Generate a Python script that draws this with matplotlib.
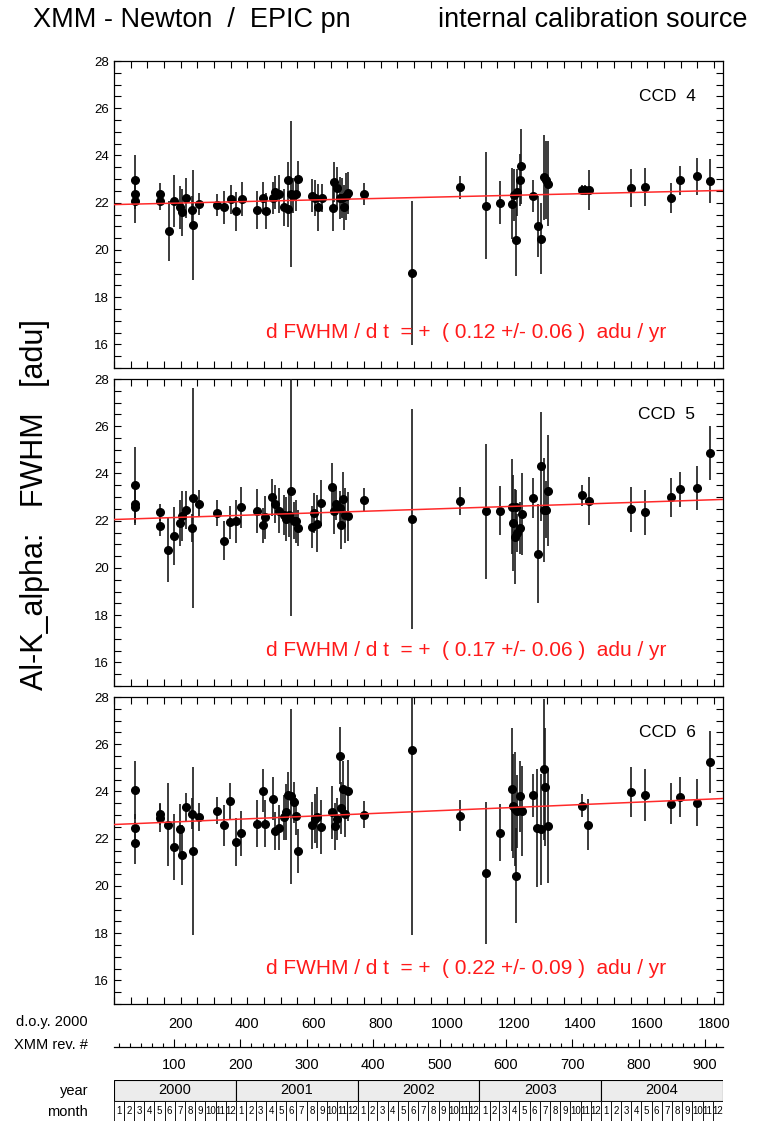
import calendar

import matplotlib
matplotlib.use("Agg")
import matplotlib.pyplot as plt
from matplotlib import font_manager
from matplotlib.ticker import MultipleLocator, FixedLocator
import numpy as np

plt.rcParams['font.family'] = ['Liberation Sans', 'DejaVu Sans']

# ---- data (day of year 2000, FWHM [adu], error) ----
ccd4_day = [62, 62, 62, 138, 138, 164, 181, 198, 205, 216, 235, 238, 255, 310, 331, 350, 366, 383,
            428, 447, 455, 476, 483, 495, 510, 521, 521, 530, 538, 546, 553, 593, 603, 613, 623,
            656, 661, 670, 678, 683, 691, 695, 703, 751, 895, 1039, 1117, 1157, 1193, 1200, 1205,
            1210, 1218, 1222, 1256, 1272, 1282, 1289, 1295, 1302, 1403, 1414, 1424, 1551, 1592,
            1670, 1698, 1748, 1787]
ccd4_fwhm = [22.97, 22.35, 22.06, 22.37, 22.06, 20.79, 22.06, 21.8, 21.6, 22.2, 21.7, 21.04, 21.95,
             21.9, 21.8, 22.15, 21.63, 22.15, 21.68, 22.2, 21.63, 22.2, 22.44, 22.37, 21.8, 22.97,
             21.73, 22.37, 22.3, 22.37, 23.0, 22.3, 22.2, 21.8, 22.2, 21.77, 22.87, 22.62, 22.2,
             22.2, 21.8, 22.27, 22.4, 22.37, 19.03, 22.65, 21.87, 22.0, 21.96, 22.34, 20.41, 22.44,
             22.97, 23.54, 22.27, 21.0, 20.48, 23.07, 22.97, 22.8, 22.55, 22.55, 22.55, 22.62,
             22.66, 22.2, 22.94, 23.11, 22.9]
ccd4_err = [1.06, 0.6, 0.9, 0.45, 0.35, 1.27, 1.1, 0.9, 1.0, 0.85, 0.6, 2.33, 0.48, 0.48, 0.69,
            0.62, 0.83, 0.73, 0.81, 0.66, 0.76, 0.67, 0.7, 0.8, 0.78, 0.75, 0.75, 3.1, 0.74, 0.74,
            0.77, 0.7, 0.77, 1.0, 0.6, 0.95, 0.85, 0.9, 0.9, 0.85, 0.95, 1.0, 0.88, 0.46, 3.05,
            0.5, 2.27, 0.92, 1.5, 1.1, 1.5, 1.0, 1.1, 1.6, 0.67, 1.3, 1.5, 1.8, 1.65, 1.8, 0.2,
            0.2, 0.85, 0.8, 0.8, 0.65, 0.63, 0.77, 0.93]

ccd5_day = [62, 62, 62, 137, 137, 163, 180, 197, 204, 215, 234, 237, 254, 309, 330, 349, 365, 382,
            429, 446, 454, 475, 482, 494, 509, 517, 524, 530, 539, 547, 553, 594, 600, 610, 622,
            655, 660, 667, 677, 680, 687, 692, 702, 750, 894, 1039, 1117, 1157, 1193, 1198, 1203,
            1206, 1210, 1218, 1224, 1256, 1272, 1282, 1289, 1295, 1302, 1405, 1424, 1551, 1592,
            1670, 1698, 1748, 1787]
ccd5_fwhm = [23.51, 22.72, 22.6, 22.35, 21.78, 20.77, 21.36, 21.9, 22.18, 22.46, 21.69, 22.96,
             22.72, 22.32, 21.16, 21.93, 21.97, 22.56, 22.43, 21.81, 22.14, 22.99, 22.72, 22.42,
             22.25, 22.07, 22.25, 23.27, 22.0, 21.97, 21.69, 21.73, 22.32, 21.87, 22.75, 23.41,
             22.43, 22.72, 22.53, 21.83, 22.93, 22.22, 22.18, 22.89, 22.08, 22.82, 22.39, 22.43,
             22.6, 21.9, 21.33, 22.6, 21.47, 21.71, 22.28, 22.96, 20.6, 24.3, 22.46, 22.46, 23.27,
             23.08, 22.84, 22.48, 22.35, 22.99, 23.34, 23.38, 24.86]
ccd5_err = [1.62, 0.6, 0.8, 0.35, 0.42, 1.36, 1.23, 0.99, 1.06, 0.8, 0.6, 4.64, 0.57, 0.56, 0.81,
            0.71, 0.92, 0.86, 0.93, 0.74, 0.9, 0.78, 0.81, 0.95, 0.85, 0.92, 0.95, 5.3, 0.78, 0.92,
            0.75, 0.88, 0.85, 1.2, 0.99, 1.03, 0.99, 0.67, 0.74, 1.03, 1.13, 1.17, 1.03, 0.49,
            4.66, 0.59, 2.84, 1.04, 2.0, 2.05, 2.02, 0.7, 0.8, 1.1, 1.75, 0.83, 2.1, 2.3, 2.2,
            1.2, 2.36, 0.44, 1.01, 0.95, 0.97, 0.82, 0.74, 0.94, 1.14]

ccd6_day = [62, 62, 62, 137, 137, 163, 180, 199, 204, 215, 234, 237, 254, 309, 330, 349, 365, 382,
            429, 446, 454, 476, 482, 494, 509, 517, 522, 530, 539, 545, 553, 594, 602, 610, 622,
            655, 662, 669, 677, 682, 687, 692, 702, 750, 894, 1039, 1117, 1157, 1193, 1198, 1203,
            1205, 1210, 1218, 1224, 1256, 1270, 1282, 1289, 1293, 1302, 1405, 1423, 1551, 1592,
            1670, 1698, 1748, 1787]
ccd6_fwhm = [24.05, 22.46, 21.82, 23.06, 22.88, 22.6, 21.64, 22.39, 21.29, 23.33, 23.06, 21.47,
             22.92, 23.19, 22.56, 23.58, 21.86, 22.22, 22.64, 24.04, 22.63, 23.7, 22.34, 22.47,
             22.91, 23.13, 23.83, 23.8, 23.54, 22.95, 21.47, 22.56, 22.84, 22.91, 22.5, 23.12,
             22.53, 22.84, 25.52, 23.3, 24.1, 23.06, 24.04, 23.02, 25.74, 22.98, 20.55, 22.25,
             24.1, 23.37, 23.26, 20.44, 23.16, 23.8, 23.16, 23.83, 22.46, 22.41, 24.93, 24.18,
             22.53, 23.4, 22.6, 23.98, 23.83, 23.49, 23.77, 23.52, 25.24]
ccd6_err = [1.23, 0.6, 0.9, 0.47, 0.6, 1.76, 1.4, 1.06, 1.27, 0.59, 0.67, 3.55, 0.6, 0.56, 0.86,
            0.78, 1.02, 0.95, 0.99, 0.92, 0.99, 0.9, 0.8, 0.95, 0.95, 1.2, 1.0, 3.7, 0.88, 0.78,
            0.92, 1.01, 1.04, 1.3, 1.13, 1.13, 0.99, 0.88, 1.22, 1.1, 1.2, 0.98, 1.3, 0.58, 7.8,
            0.67, 3.0, 1.2, 2.6, 2.2, 2.4, 2.0, 1.55, 1.5, 1.9, 0.92, 2.5, 2.35, 3.0, 2.5, 2.4,
            0.5, 1.06, 1.06, 1.1, 0.88, 0.85, 0.99, 1.3]

ccd_names = ["CCD  4", "CCD  5", "CCD  6"]
fit_offset = [21.92, 22.05, 22.6]      # adu at day 0
fit_slope = [0.12, 0.17, 0.22]         # adu / yr
fit_slope_err = [0.06, 0.06, 0.09]

years = [2000, 2001, 2002, 2003, 2004]
doy_ticks = [200, 400, 600, 800, 1000, 1200, 1400, 1600, 1800]
rev_ticks = [100, 200, 300, 400, 500, 600, 700, 800, 900]
REV_DAY0 = -19.0       # d.o.y. of rev 0
DAYS_PER_REV = 1.991

# tall narrow face for the big labels, if there is one
installed = {f.name for f in font_manager.fontManager.ttflist}
if 'Liberation Sans Narrow' in installed:
    big_font, title_size, ylab_size = 'Liberation Sans Narrow', 23, 24
else:
    big_font, title_size, ylab_size = 'Liberation Sans', 19.5, 22

W, H = 762, 1124
fig = plt.figure(figsize=(W / 100, H / 100), dpi=100)


def box(x0, y0, x1, y1):
    return [x0 / W, 1 - y1 / H, (x1 - x0) / W, (y1 - y0) / H]


n_days = sum(366 if calendar.isleap(y) else 365 for y in years)
X0, X1 = 114, 723
panel_tops = [61, 379, 697]
data = [(ccd4_day, ccd4_fwhm, ccd4_err), (ccd5_day, ccd5_fwhm, ccd5_err),
        (ccd6_day, ccd6_fwhm, ccd6_err)]

for i, (day, fwhm, err) in enumerate(data):
    top = panel_tops[i]
    ax = fig.add_axes(box(X0, top, X1, top + 307))
    ax.errorbar(day, fwhm, yerr=err, fmt='o', ms=5.5, color='black', ecolor='#1a1a1a',
                elinewidth=1.2, capsize=0, zorder=3)
    t = np.array([0, n_days])
    ax.plot(t, fit_offset[i] + fit_slope[i] * t / 365.25, color='#ff2a2a', lw=1.1, zorder=4)
    ax.set_xlim(0, n_days)
    ax.set_ylim(15, 28)
    ax.yaxis.set_major_locator(MultipleLocator(2))
    ax.yaxis.set_minor_locator(MultipleLocator(0.5))
    ax.xaxis.set_major_locator(FixedLocator(doy_ticks))
    ax.xaxis.set_minor_locator(MultipleLocator(50))
    ax.tick_params(which='both', direction='in', top=True, right=True, length=5, width=0.8,
                   labelsize=9.5)
    ax.tick_params(axis='x', labelbottom=(i == 2), labelsize=10.5, pad=9)
    for s in ax.spines.values():
        s.set_linewidth(0.9)
    ax.text(0.908, 0.883, ccd_names[i], transform=ax.transAxes, ha='center', va='center',
            fontsize=12.5)
    ax.text(0.578, 0.117,
            f"d FWHM / d t  = +  ( {fit_slope[i]:.2f} +/- {fit_slope_err[i]:.2f} )  adu / yr",
            transform=ax.transAxes, ha='center', va='center', fontsize=15, color='#ff1a1a')

# XMM revolution axis
axr = fig.add_axes(box(X0, 1037, X1, 1047))
axr.patch.set_visible(False)
for side in ['top', 'left', 'right']:
    axr.spines[side].set_visible(False)
axr.spines['bottom'].set_linewidth(0.9)
axr.set_xlim((0 - REV_DAY0) / DAYS_PER_REV, (n_days - REV_DAY0) / DAYS_PER_REV)
axr.xaxis.set_major_locator(FixedLocator(rev_ticks))
axr.xaxis.set_minor_locator(MultipleLocator(100 / 6))
axr.set_yticks([])
axr.tick_params(axis='x', which='major', direction='in', length=6, width=0.8, labelsize=10.5,
                pad=8)
axr.tick_params(axis='x', which='minor', direction='in', length=3, width=0.8)

# year / month table
axt = fig.add_axes(box(X0, 1080, X1, 1121))
axt.set_xlim(0, n_days)
axt.set_ylim(0, 2)
axt.axis('off')
start = 0
for y in years:
    ylen = 366 if calendar.isleap(y) else 365
    axt.barh(1.5, ylen, left=start, height=1, color='#ececec', edgecolor='black', lw=0.8)
    axt.text(start + ylen / 2, 1.5, str(y), ha='center', va='center', fontsize=10.5)
    mstart = start
    for m in range(1, 13):
        mlen = calendar.monthrange(y, m)[1]
        axt.barh(0.5, mlen, left=mstart, height=1, color='white', edgecolor='black', lw=0.6)
        axt.text(mstart + mlen / 2, 0.48, str(m), ha='center', va='center', fontsize=7)
        mstart += mlen
    start += ylen

# labels
fig.text(33 / W, 1 - 20 / H, "XMM - Newton  /  EPIC pn", fontsize=title_size, va='center',
         family=[big_font, 'DejaVu Sans'])
fig.text(748 / W, 1 - 20 / H, "internal calibration source", fontsize=title_size,
         va='center', ha='right', family=[big_font, 'DejaVu Sans'])
fig.text(35 / W, 1 - 505 / H, "Al-K_alpha:   FWHM   [adu]", rotation=90, fontsize=ylab_size,
         ha='center', va='center', family=[big_font, 'DejaVu Sans'])
for txt, yy in [("d.o.y. 2000", 1022), ("XMM rev. #", 1045), ("year", 1091), ("month", 1112)]:
    fig.text(88 / W, 1 - yy / H, txt, ha='right', va='center', fontsize=10.5)

fig.savefig("out.png", dpi=100)
